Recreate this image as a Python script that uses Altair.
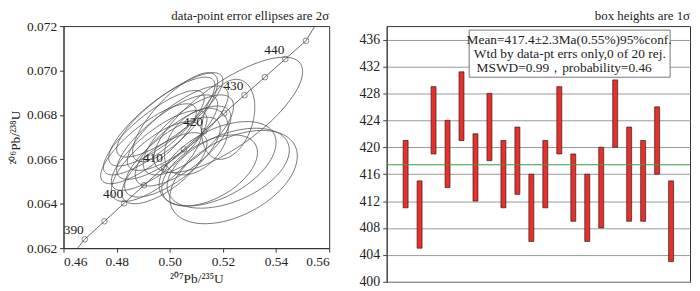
import altair as alt
import numpy as np
import pandas as pd

FONT = "Liberation Serif"

# ---------------- Left panel: concordia ----------------
conc_age = [390, 395, 400, 405, 410, 415, 420, 425, 430, 435, 440, 445]
conc_x = [0.4680, 0.4754, 0.4828, 0.4903, 0.4978, 0.5053, 0.5129, 0.5205, 0.5281, 0.5358, 0.5435, 0.5513]
conc_y = [0.06240, 0.06321, 0.06402, 0.06483, 0.06564, 0.06645, 0.06726, 0.06807, 0.06889, 0.06970, 0.07052, 0.07134]
conc_label_ages = [390, 400, 410, 420, 430, 440]
# concordia line end points at the frame edges
line_x = [0.4653] + conc_x + [0.5546]
line_y = [0.0620] + conc_y + [0.0720]

# ellipse parameters (centre, half-widths, correlation)
ell_cx = [0.522, 0.524, 0.522, 0.518, 0.522, 0.494, 0.497, 0.500, 0.492, 0.496,
          0.499, 0.503, 0.495, 0.501, 0.505, 0.498, 0.507, 0.510, 0.502, 0.515]
ell_cy = [0.0680, 0.0652, 0.0656, 0.0658, 0.0678, 0.0672, 0.0677, 0.0680, 0.0667, 0.0664,
          0.0670, 0.0674, 0.0659, 0.0661, 0.0666, 0.0656, 0.0671, 0.0668, 0.0679, 0.0655]
ell_sx = [0.028, 0.024, 0.023, 0.022, 0.010, 0.019, 0.020, 0.020, 0.018, 0.018,
          0.019, 0.019, 0.017, 0.018, 0.018, 0.016, 0.017, 0.012, 0.016, 0.018]
ell_sy = [0.0026, 0.0021, 0.0018, 0.0019, 0.0018, 0.0019, 0.0020, 0.0019, 0.0018, 0.0018,
          0.0019, 0.0019, 0.0018, 0.0018, 0.0018, 0.0016, 0.0018, 0.0015, 0.0020, 0.0016]
ell_rho = [0.75, 0.45, 0.45, 0.50, 0.30, 0.82, 0.82, 0.82, 0.80, 0.78,
           0.78, 0.78, 0.72, 0.72, 0.72, 0.70, 0.72, 0.40, 0.78, 0.50]

# ---------------- Right panel: weighted mean ----------------
spot = list(range(1, 21))
age_lo = [411, 405, 419, 414, 421, 412, 418, 411, 413, 406,
          411, 419, 409, 406, 408, 420, 409, 409, 416, 403]
age_hi = [421, 415, 429, 424, 431.2, 422, 428, 421, 423, 416,
          421, 429, 419, 416, 420, 430, 423, 421, 426, 415]
mean_age = 417.4
box_lines = ["Mean=417.4±2.3Ma(0.55%)95%conf.",
             "Wtd by data-pt errs only,0 of 20 rej.",
             "MSWD=0.99，probability=0.46"]
box_line_x = [12.7, 12.75, 12.35]
box_line_y = [436.0, 433.8, 431.7]
box_x = [5.55, 19.93]
box_y = [430.4, 437.4]

left_title = "data-point error ellipses are 2σ"
right_title = "box heights are 1σ"
x_title = "²⁰⁷Pb/²³⁵U"
y_title = "²⁰⁶Pb/²³⁸U"

# ---------------- build data ----------------
t = np.linspace(0, 2 * np.pi, 121)
rows = []
for i in range(len(ell_cx)):
    r = ell_rho[i]
    xs = ell_cx[i] + ell_sx[i] * np.cos(t)
    ys = ell_cy[i] + ell_sy[i] * (r * np.cos(t) + np.sqrt(1 - r * r) * np.sin(t))
    for k in range(len(t)):
        rows.append({"id": i, "k": k, "x": xs[k], "y": ys[k]})
ell_df = pd.DataFrame(rows)

line_df = pd.DataFrame({"x": line_x, "y": line_y, "k": list(range(len(line_x)))})
pts_df = pd.DataFrame({"age": conc_age, "x": conc_x, "y": conc_y})
lab_df = pts_df[pts_df["age"].isin(conc_label_ages)].copy()
lab_df["label"] = lab_df["age"].astype(str)

LW, LH = 268, 224
RW, RH = 306, 258

xs_l = alt.Scale(domain=[0.46, 0.56], nice=False, zero=False)
ys_l = alt.Scale(domain=[0.062, 0.072], nice=False, zero=False)

common = dict(grid=False, tickSize=4, tickColor="#333", domainColor="#333",
              labelFont=FONT, titleFont=FONT, labelFontSize=13.5, labelColor="#222",
              titleFontSize=13.5, titleFontWeight="normal", titleColor="#222",
              labelOverlap=False)
x_axis = alt.Axis(values=[0.46, 0.48, 0.50, 0.52, 0.54, 0.56], format=".2f",
                  labelPadding=3, titlePadding=3, **common)
y_axis = alt.Axis(values=[0.062, 0.064, 0.066, 0.068, 0.070, 0.072], format=".3f",
                  labelPadding=3, titlePadding=4, **common)

XL = alt.X("x:Q", scale=xs_l, axis=x_axis, title=x_title)
YL = alt.Y("y:Q", scale=ys_l, axis=y_axis, title=y_title)

ellipses = alt.Chart(ell_df).mark_line(color="#555", strokeWidth=0.8, clip=True).encode(
    x=XL, y=YL, detail="id:N", order="k:Q",
)
conc_line = alt.Chart(line_df).mark_line(color="#444", strokeWidth=0.8, clip=True).encode(
    x=XL, y=YL, order="k:Q"
)
conc_pts = alt.Chart(pts_df).mark_point(shape="circle", size=32, filled=False, color="#444",
                                         strokeWidth=0.9, clip=True).encode(x=XL, y=YL)
conc_lab = alt.Chart(lab_df).mark_text(align="right", baseline="bottom", dx=-1, dy=-2,
                                        fontSize=13.5, font=FONT, color="#222").encode(
    x=XL, y=YL, text="label:N"
)
ltitle = alt.Chart(pd.DataFrame({"t": [left_title]})).mark_text(
    align="right", baseline="bottom", fontSize=13, font=FONT, color="#222"
).encode(x=alt.value(LW), y=alt.value(-3), text="t:N")

left = alt.layer(ellipses, conc_line, conc_pts, conc_lab, ltitle).properties(width=LW, height=LH)

# right panel
bar_df = pd.DataFrame({"spot": spot, "lo": age_lo, "hi": age_hi})
xs_r = alt.Scale(domain=[0, 21], nice=False, zero=False)
ys_r = alt.Scale(domain=[400, 438], nice=False, zero=False)

y_axis_r = alt.Axis(values=list(range(400, 437, 4)), grid=True, gridColor="#999", gridWidth=1,
                    tickSize=4, tickColor="#444", domainColor="#444", labelFont=FONT,
                    labelFontSize=14, labelColor="#222", labelPadding=3, labelOverlap=False)


def YR(field):
    return alt.Y(field, scale=ys_r, axis=y_axis_r, title=None)


def XR(field):
    return alt.X(field, scale=xs_r, axis=None, title=None)


bars = alt.Chart(bar_df).mark_bar(width=5, color="#e8302a", stroke="#3a1a1a",
                                   strokeWidth=0.7).encode(
    x=XR("spot:Q"), y=YR("lo:Q"), y2="hi:Q",
)
mean_rule = alt.Chart(pd.DataFrame({"m": [mean_age]})).mark_rule(color="#3a9c40", strokeWidth=1.2).encode(
    y=YR("m:Q")
)
box_df = pd.DataFrame({"x": [box_x[0]], "x2": [box_x[1]], "y": [box_y[0]], "y2": [box_y[1]]})
box = alt.Chart(box_df).mark_rect(fill="white", stroke="#777", strokeWidth=1).encode(
    x=XR("x:Q"), x2="x2:Q", y=YR("y:Q"), y2="y2:Q"
)
txt_df = pd.DataFrame({"t": box_lines, "x": box_line_x, "y": box_line_y})
box_txt = alt.Chart(txt_df).mark_text(align="center", baseline="middle", fontSize=13.5,
                                       font=FONT, color="#222").encode(
    x=XR("x:Q"), y=YR("y:Q"), text="t:N"
)
rtitle = alt.Chart(pd.DataFrame({"t": [right_title]})).mark_text(
    align="right", baseline="bottom", fontSize=13, font=FONT, color="#222"
).encode(x=alt.value(RW), y=alt.value(-3), text="t:N")

right = alt.layer(bars, mean_rule, box, box_txt, rtitle).properties(width=RW, height=RH)

chart = alt.hconcat(left, right, spacing=28).configure(
    font=FONT, padding=0, background="white"
).configure_axis(labelFont=FONT, titleFont=FONT, labelOverlap=False
).configure_view(stroke="#333", strokeWidth=1)

chart.save("out.html", embed_options={"renderer": "svg", "actions": False})
